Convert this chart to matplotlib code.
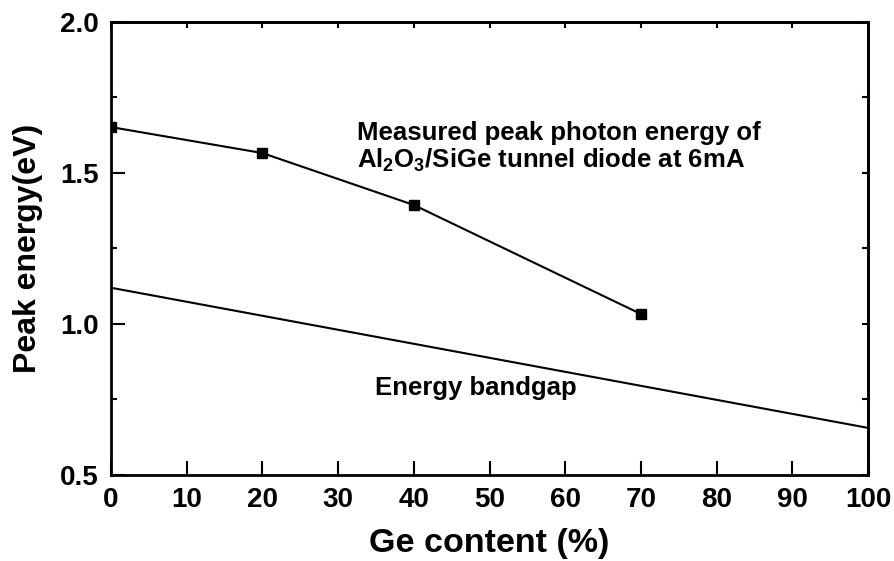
import matplotlib
matplotlib.use('Agg')
import matplotlib.pyplot as plt
from matplotlib.ticker import MultipleLocator, FormatStrFormatter

# data
ge_measured = [0, 20, 40, 70]
peak_energy = [1.652, 1.566, 1.394, 1.033]
ge_gap = [0, 100]
bandgap = [1.12, 0.656]

plt.rcParams['font.family'] = ['Liberation Sans', 'DejaVu Sans']
plt.rcParams['font.weight'] = 'bold'
plt.rcParams['mathtext.fontset'] = 'custom'
plt.rcParams['mathtext.rm'] = 'Liberation Sans:bold'
plt.rcParams['mathtext.it'] = 'Liberation Sans:bold'
plt.rcParams['mathtext.bf'] = 'Liberation Sans:bold'

fig = plt.figure(figsize=(8.94, 5.61), dpi=100)
ax = fig.add_axes([0.1242, 0.1533, 0.8468, 0.8075])

ax.plot(ge_measured, peak_energy, color='black', lw=1.5, marker='s', ms=7,
        zorder=3)
ax.plot(ge_gap, bandgap, color='black', lw=1.5)

ax.set_xlim(0, 100)
ax.set_ylim(0.5, 2.0)
ax.xaxis.set_major_locator(MultipleLocator(10))
ax.yaxis.set_major_locator(MultipleLocator(0.5))
ax.yaxis.set_minor_locator(MultipleLocator(0.25))
ax.yaxis.set_major_formatter(FormatStrFormatter('%.1f'))

for s in ax.spines.values():
    s.set_linewidth(2)
ax.tick_params(which='major', direction='in', length=10, width=1.5,
               labelsize=20, pad=9, top=False, right=False)
ax.tick_params(which='minor', direction='in', length=4, width=1.5,
               top=False, right=False)

# small inward ticks on top and right edges
ax_top = ax.secondary_xaxis('top')
ax_top.xaxis.set_major_locator(MultipleLocator(10))
ax_top.tick_params(direction='in', length=4, width=1.5, labeltop=False)
ax_top.spines['top'].set_linewidth(2)
ax_right = ax.secondary_yaxis('right')
ax_right.yaxis.set_major_locator(MultipleLocator(0.25))
ax_right.tick_params(direction='in', length=4, width=1.5, labelright=False)
ax_right.spines['right'].set_linewidth(2)

ax.set_xlabel('Ge content (%)', fontsize=24.5, fontweight='bold')
ax.set_ylabel('Peak energy(eV)', fontsize=23, fontweight='bold')
ax.xaxis.set_label_coords(0.5, -0.118)
ax.yaxis.set_label_coords(-0.09, 0.5)

ax.text(32.5, 1.609, 'Measured peak photon energy of',
        fontsize=18.5, fontweight='bold', va='baseline')
ax.text(32.5, 1.517, r'Al$_\mathrm{2}$O$_\mathrm{3}$/SiGe tunnel diode at 6mA',
        fontsize=18.5, fontweight='bold', va='baseline')
ax.text(34.9, 0.765, 'Energy bandgap', fontsize=18.5, fontweight='bold',
        va='baseline')

fig.savefig('out.png', dpi=100)
